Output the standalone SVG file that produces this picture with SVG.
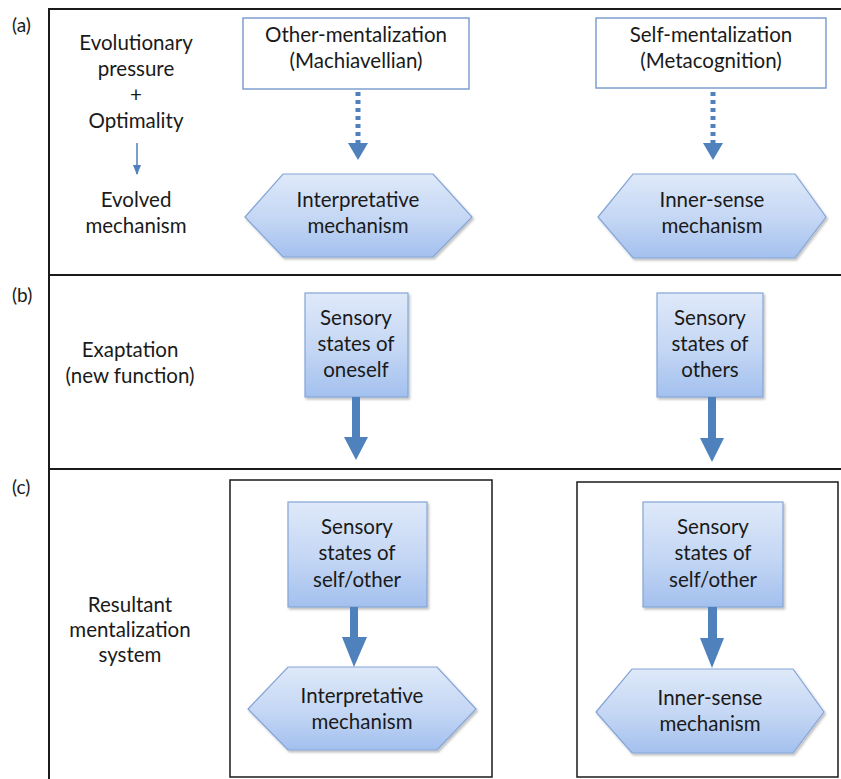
<svg xmlns="http://www.w3.org/2000/svg" width="841" height="779" viewBox="0 0 841 779">
  <defs>
    <linearGradient id="blueFill" x1="0" y1="0" x2="0" y2="1">
      <stop offset="0" stop-color="#dfe9f9"/>
      <stop offset="0.55" stop-color="#c3d6f4"/>
      <stop offset="1" stop-color="#a3c0ee"/>
    </linearGradient>
    <filter id="shadow" x="-10%" y="-10%" width="130%" height="130%">
      <feDropShadow dx="1.5" dy="2" stdDeviation="1.2" flood-color="#000" flood-opacity="0.25"/>
    </filter>
    <marker id="thinHead" viewBox="0 0 10 10" refX="9" refY="5" markerWidth="7" markerHeight="7" orient="auto">
      <path d="M0,1 L10,5 L0,9 Z" fill="#4f81bd"/>
    </marker>
  </defs>
  <style>
    text { font-family: Lato, "Liberation Sans", sans-serif; font-size: 20.5px; fill: #1a1a1a; text-anchor: middle; }
    .lbl { text-anchor: start; font-size: 19px; }
    .frame { fill: none; stroke: #1a1a1a; stroke-width: 2; }
    .inner { fill: none; stroke: #1a1a1a; stroke-width: 1.5; }
    .plain { fill: #ffffff; stroke: #7f9fd0; stroke-width: 1.5; }
    .shape { fill: url(#blueFill); stroke: #84a5d6; stroke-width: 1.2; filter: url(#shadow); }
    .dots { fill: none; stroke: #4f81bd; stroke-width: 5; stroke-dasharray: 4 4; }
    .head { fill: #4f81bd; }
  </style>

  <rect width="841" height="779" fill="#ffffff"/>

  <!-- panel frame and separators -->
  <g id="frame">
    <path class="frame" d="M49,779 L49,9 L845,9"/>
    <line class="frame" x1="49" y1="275" x2="845" y2="275"/>
    <line class="frame" x1="49" y1="469" x2="845" y2="469"/>
    <rect class="inner" x="230" y="480" width="262" height="297"/>
    <rect class="inner" x="577" y="482" width="261" height="295"/>
  </g>

  <!-- panel labels -->
  <g id="labels">
    <text class="lbl" x="12" y="32">(a)</text>
    <text class="lbl" x="12" y="302">(b)</text>
    <text class="lbl" x="12" y="494">(c)</text>
  </g>

  <!-- row captions -->
  <g id="caption-a">
    <text x="136" y="50">Evolutionary</text>
    <text x="136" y="76">pressure</text>
    <text x="136" y="102">+</text>
    <text x="136" y="128">Optimality</text>
    <text x="136" y="207">Evolved</text>
    <text x="136" y="233">mechanism</text>
  </g>
  <g id="caption-b">
    <text x="130" y="357">Exaptation</text>
    <text x="130" y="383">(new function)</text>
  </g>
  <g id="caption-c">
    <text x="130" y="612">Resultant</text>
    <text x="130" y="637">mentalization</text>
    <text x="130" y="662">system</text>
  </g>

  <!-- row (a) nodes -->
  <g id="other-mentalization">
    <rect class="plain" x="243" y="18" width="226" height="71"/>
    <text x="356" y="42">Other-mentalization</text>
    <text x="356" y="68">(Machiavellian)</text>
  </g>
  <g id="self-mentalization">
    <rect class="plain" x="596" y="18" width="230" height="70"/>
    <text x="711" y="42">Self-mentalization</text>
    <text x="711" y="68">(Metacognition)</text>
  </g>
  <g id="interpretative-a">
    <polygon class="shape" points="245,217 283,174 433,174 472,217 433,257 283,257"/>
    <text x="358" y="207">Interpretative</text>
    <text x="358" y="233">mechanism</text>
  </g>
  <g id="inner-sense-a">
    <polygon class="shape" points="598,217 633,174 795,174 826,217 795,258 633,258"/>
    <text x="712" y="207">Inner-sense</text>
    <text x="712" y="233">mechanism</text>
  </g>

  <!-- row (b) nodes -->
  <g id="sensory-oneself">
    <rect class="shape" x="305" y="293" width="103" height="104"/>
    <text x="356" y="325">Sensory</text>
    <text x="356" y="351">states of</text>
    <text x="356" y="377">oneself</text>
  </g>
  <g id="sensory-others">
    <rect class="shape" x="657" y="293" width="106" height="104"/>
    <text x="710" y="325">Sensory</text>
    <text x="710" y="351">states of</text>
    <text x="710" y="377">others</text>
  </g>

  <!-- row (c) nodes -->
  <g id="sensory-left">
    <rect class="shape" x="288" y="502" width="139" height="105"/>
    <text x="357" y="534">Sensory</text>
    <text x="357" y="560">states of</text>
    <text x="357" y="587">self/other</text>
  </g>
  <g id="interpretative-c">
    <polygon class="shape" points="248,709 288,667 437,667 476,709 437,750 288,750"/>
    <text x="362" y="703">Interpretative</text>
    <text x="362" y="729">mechanism</text>
  </g>
  <g id="sensory-right">
    <rect class="shape" x="643" y="502" width="140" height="105"/>
    <text x="713" y="534">Sensory</text>
    <text x="713" y="560">states of</text>
    <text x="713" y="587">self/other</text>
  </g>
  <g id="inner-sense-c">
    <polygon class="shape" points="596,712 632,669 793,669 824,712 793,753 632,753"/>
    <text x="710" y="705">Inner-sense</text>
    <text x="710" y="731">mechanism</text>
  </g>

  <!-- connectors -->
  <g id="connectors">
    <line x1="137" y1="143" x2="137" y2="174" stroke="#4f81bd" stroke-width="1.5" marker-end="url(#thinHead)"/>

    <line class="dots" x1="358" y1="92" x2="358" y2="143"/>
    <polygon class="head" points="348,143 368,143 358,160"/>
    <line class="dots" x1="713" y1="92" x2="713" y2="143"/>
    <polygon class="head" points="703,143 723,143 713,160"/>

    <polygon class="head" points="352,397 360,397 360,437 368,437 356,460 344,437 352,437"/>
    <polygon class="head" points="708,397 716,397 716,438 724,438 712,462 700,438 708,438"/>

    <polygon class="head" points="350,607 358,607 358,637 367,637 354,667 342,637 350,637"/>
    <polygon class="head" points="708,607 717,607 717,638 724,638 712,668 700,638 708,638"/>
  </g>
</svg>
